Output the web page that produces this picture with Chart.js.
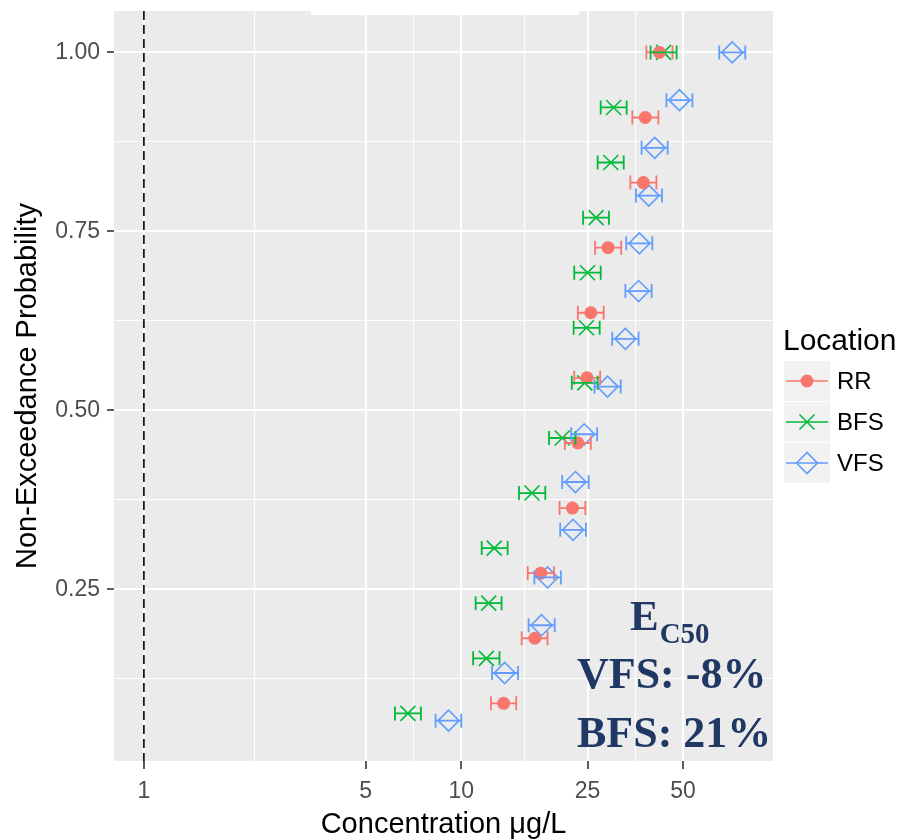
<!DOCTYPE html>
<html>
<head>
<meta charset="utf-8">
<script src="https://cdn.jsdelivr.net/npm/chart.js@4.4.1/dist/chart.umd.min.js"></script>
<style>
  html, body { margin: 0; padding: 0; background: #ffffff; }
  #wrap { width: 901px; height: 839px; }
</style>
</head>
<body>
<div id="wrap"><canvas id="c" width="901" height="839"></canvas></div>
<script>
// Non-exceedance probability (rank / n) for each location
const rrProb  = [0.0909, 0.1818, 0.2727, 0.3636, 0.4545, 0.5455, 0.6364, 0.7273, 0.8182, 0.9091, 1.0];
const bfsProb = [0.0769, 0.1538, 0.2308, 0.3077, 0.3846, 0.4615, 0.5385, 0.6154, 0.6923, 0.7692, 0.8462, 0.9231, 1.0];
const vfsProb = [0.0667, 0.1333, 0.2, 0.2667, 0.3333, 0.4, 0.4667, 0.5333, 0.6, 0.6667, 0.7333, 0.8, 0.8667, 0.9333, 1.0];

// Concentration estimates (µg/L) with lower / upper interval bounds
const rrConc  = [13.6, 17.05, 17.8, 22.4, 23.3, 24.9, 25.6, 29.0, 37.5, 38.0, 42.1];
const rrLow   = [12.4, 15.5, 16.2, 20.4, 21.2, 22.7, 23.3, 26.4, 34.1, 34.6, 38.3];
const rrHigh  = [14.9, 18.7, 19.6, 24.6, 25.6, 27.4, 28.1, 31.9, 41.2, 41.8, 46.3];

const bfsConc = [6.79, 12.0, 12.2, 12.7, 16.7, 20.8, 24.5, 24.8, 25.0, 26.6, 29.6, 30.2, 43.4];
const bfsLow  = [6.18, 10.9, 11.1, 11.6, 15.2, 18.9, 22.3, 22.6, 22.7, 24.2, 26.9, 27.5, 39.5];
const bfsHigh = [7.46, 13.2, 13.4, 14.0, 18.4, 22.9, 26.9, 27.3, 27.5, 29.2, 32.5, 33.2, 47.7];

const vfsConc = [9.12, 13.7, 17.9, 18.7, 22.5, 22.9, 24.4, 28.9, 32.9, 36.2, 36.4, 39.0, 40.7, 48.7, 71.4];
const vfsLow  = [8.30, 12.5, 16.3, 17.0, 20.5, 20.8, 22.2, 26.3, 29.9, 32.9, 33.1, 35.5, 37.0, 44.3, 65.0];
const vfsHigh = [10.0, 15.1, 19.7, 20.6, 24.7, 25.2, 26.8, 31.8, 36.2, 39.8, 40.0, 42.9, 44.7, 53.5, 78.5];

const seriesNames  = ['RR', 'BFS', 'VFS'];
const seriesColors = ['#F8766D', '#00BA38', '#619CFF'];

// Axis breaks
const xMajorTicks = [1, 5, 10, 25, 50];
const xMinorTicks = [2.236, 7.071, 15.81, 35.36];
const yMajorTicks = [0.25, 0.5, 0.75, 1.0];
const yTickLabels = ['0.25', '0.50', '0.75', '1.00'];
const yMinorTicks = [0.125, 0.375, 0.625, 0.875];

const referenceConc = 1;           // dashed vertical reference line
const noteTitle = 'E';
const noteSub = 'C50';
const noteLines = ['VFS: -8%', 'BFS: 21%'];

const SANS = '"Liberation Sans", Arial, sans-serif';
const SERIF = '"Liberation Serif", "Times New Roman", serif';

function pts(conc, prob, low, high) {
  return conc.map((x, i) => ({ x: x, y: prob[i], lo: low[i], hi: high[i] }));
}

const pointStyles = [
  { pointStyle: 'circle',   radius: 6.5,  fill: true,  borderWidth: 0 },
  { pointStyle: 'crossRot', radius: 10.6, fill: false, borderWidth: 1.6 },
  { pointStyle: 'rectRot',  radius: 10.5, fill: false, borderWidth: 1.6 }
];

function makeDataset(i, data) {
  const s = pointStyles[i];
  return {
    label: seriesNames[i],
    data: data,
    showLine: false,
    pointStyle: s.pointStyle,
    pointRadius: s.radius,
    pointHoverRadius: s.radius,
    pointBorderWidth: s.borderWidth,
    pointBorderColor: seriesColors[i],
    pointBackgroundColor: s.fill ? seriesColors[i] : 'rgba(0,0,0,0)'
  };
}

// no extra room for overhanging tick labels
function noPad(s) {
  s.paddingTop = 0; s.paddingBottom = 0; s.paddingLeft = 0; s.paddingRight = 0;
}

// grey panel behind the grid
const panelBg = {
  id: 'panelBg',
  beforeDraw(chart) {
    const { ctx, chartArea: a } = chart;
    ctx.save();
    ctx.fillStyle = '#EBEBEB';
    ctx.fillRect(a.left, a.top, a.right - a.left, a.bottom - a.top);
    ctx.restore();
  }
};

// dashed reference line
const refLine = {
  id: 'refLine',
  beforeDatasetsDraw(chart) {
    const { ctx, chartArea: a } = chart;
    const x = chart.scales.x.getPixelForValue(referenceConc);
    ctx.save();
    ctx.strokeStyle = '#000000';
    ctx.lineWidth = 1.6;
    ctx.setLineDash([9, 5]);
    ctx.beginPath();
    ctx.moveTo(x, a.top);
    ctx.lineTo(x, a.bottom);
    ctx.stroke();
    ctx.restore();
  }
};

// horizontal interval bars
const errorBars = {
  id: 'errorBars',
  afterDatasetsDraw(chart) {
    const { ctx } = chart;
    const xs = chart.scales.x, ys = chart.scales.y;
    const cap = 7;
    ctx.save();
    ctx.beginPath();
    ctx.rect(chart.chartArea.left, chart.chartArea.top,
             chart.chartArea.right - chart.chartArea.left,
             chart.chartArea.bottom - chart.chartArea.top);
    ctx.clip();
    chart.data.datasets.forEach((ds, i) => {
      ctx.strokeStyle = seriesColors[i];
      ctx.lineWidth = 1.8;
      ds.data.forEach(d => {
        const x1 = xs.getPixelForValue(d.lo);
        const x2 = xs.getPixelForValue(d.hi);
        const y = ys.getPixelForValue(d.y);
        ctx.beginPath();
        ctx.moveTo(x1, y); ctx.lineTo(x2, y);
        ctx.moveTo(x1, y - cap); ctx.lineTo(x1, y + cap);
        ctx.moveTo(x2, y - cap); ctx.lineTo(x2, y + cap);
        ctx.stroke();
      });
    });
    ctx.restore();
  }
};

// legend, annotation and top strip
const overlay = {
  id: 'overlay',
  afterDraw(chart) {
    const { ctx } = chart;
    ctx.save();

    // legend
    ctx.fillStyle = '#000000';
    ctx.font = '30px ' + SANS;
    ctx.textAlign = 'left';
    ctx.textBaseline = 'middle';
    ctx.fillText('Location', 783, 342);

    const keyX = 784, keyW = 46, keyH = 40, keyY0 = 361, keyStep = 41;
    seriesNames.forEach((name, i) => {
      const top = keyY0 + i * keyStep;
      const cy = top + keyH / 2;
      const cx = keyX + keyW / 2;
      ctx.fillStyle = '#F2F2F2';
      ctx.fillRect(keyX, top, keyW, keyH);
      ctx.strokeStyle = seriesColors[i];
      ctx.lineWidth = 1.6;
      ctx.beginPath();
      ctx.moveTo(keyX + 2, cy);
      ctx.lineTo(keyX + keyW - 2, cy);
      ctx.stroke();
      const s = pointStyles[i];
      ctx.fillStyle = s.fill ? seriesColors[i] : 'rgba(0,0,0,0)';
      ctx.strokeStyle = seriesColors[i];
      ctx.lineWidth = s.borderWidth;
      Chart.helpers.drawPoint(ctx, {
        pointStyle: s.pointStyle, radius: s.radius, rotation: 0, borderWidth: s.borderWidth
      }, cx, cy);
      ctx.fillStyle = '#000000';
      ctx.font = '24px ' + SANS;
      ctx.fillText(name, 837, cy + 1);
    });

    // EC50 note
    ctx.fillStyle = '#1F3864';
    ctx.textBaseline = 'alphabetic';
    ctx.font = 'bold 43px ' + SERIF;
    ctx.fillText(noteTitle, 630, 630);
    const ew = ctx.measureText(noteTitle).width;
    ctx.font = 'bold 29px ' + SERIF;
    ctx.fillText(noteSub, 630 + ew + 1, 643);
    ctx.font = 'bold 44px ' + SERIF;
    ctx.fillText(noteLines[0], 577, 688);
    ctx.fillText(noteLines[1], 577, 747);

    // blank strip over the top edge
    ctx.fillStyle = '#FFFFFF';
    ctx.fillRect(311, 0, 268, 15);
    ctx.restore();
  }
};

const isIn = (arr, v) => arr.some(t => Math.abs(t - v) < 1e-9);

new Chart(document.getElementById('c'), {
  type: 'scatter',
  data: {
    datasets: [
      makeDataset(0, pts(rrConc, rrProb, rrLow, rrHigh)),
      makeDataset(1, pts(bfsConc, bfsProb, bfsLow, bfsHigh)),
      makeDataset(2, pts(vfsConc, vfsProb, vfsLow, vfsHigh))
    ]
  },
  options: {
    responsive: false,
    devicePixelRatio: 1,
    animation: false,
    events: [],
    layout: { autoPadding: false, padding: { left: 0, top: 11, right: 128, bottom: 0 } },
    plugins: { legend: { display: false }, tooltip: { enabled: false } },
    scales: {
      x: {
        type: 'logarithmic',
        min: 0.805,
        max: 96,
        afterBuildTicks: s => {
          s.ticks = xMajorTicks.concat(xMinorTicks).sort((a, b) => a - b).map(v => ({ value: v }));
        },
        afterFit: s => { s.height = 78; noPad(s); },
        border: { display: false },
        grid: {
          color: '#FFFFFF',
          lineWidth: c => isIn(xMajorTicks, c.tick.value) ? 2 : 1.1,
          tickColor: c => isIn(xMajorTicks, c.tick.value) ? '#333333' : 'rgba(0,0,0,0)',
          tickWidth: c => isIn(xMajorTicks, c.tick.value) ? 1.6 : 0,
          tickLength: 8,
          drawTicks: true
        },
        ticks: {
          autoSkip: false,
          maxRotation: 0,
          minRotation: 0,
          padding: 9,
          color: '#4D4D4D',
          font: { family: SANS, size: 23 },
          callback: v => isIn(xMajorTicks, v) ? String(v) : ''
        },
        title: {
          display: true,
          text: 'Concentration μg/L',
          color: '#000000',
          font: { family: SANS, size: 29, lineHeight: 1 },
          padding: { top: 0, bottom: 0 }
        }
      },
      y: {
        type: 'linear',
        min: 0.0104,
        max: 1.0578,
        afterBuildTicks: s => {
          s.ticks = yMajorTicks.concat(yMinorTicks).sort((a, b) => a - b).map(v => ({ value: v }));
        },
        afterFit: s => { s.width = 114; noPad(s); },
        border: { display: false },
        grid: {
          color: '#FFFFFF',
          lineWidth: c => isIn(yMajorTicks, c.tick.value) ? 2 : 1.1,
          tickColor: c => isIn(yMajorTicks, c.tick.value) ? '#333333' : 'rgba(0,0,0,0)',
          tickWidth: c => isIn(yMajorTicks, c.tick.value) ? 1.6 : 0,
          tickLength: 7,
          drawTicks: true
        },
        ticks: {
          autoSkip: false,
          padding: 7,
          color: '#4D4D4D',
          font: { family: SANS, size: 23 },
          callback: v => {
            const k = yMajorTicks.findIndex(t => Math.abs(t - v) < 1e-9);
            return k >= 0 ? yTickLabels[k] : '';
          }
        },
        title: {
          display: true,
          text: 'Non-Exceedance Probability',
          color: '#000000',
          font: { family: SANS, size: 29, lineHeight: 1 },
          padding: { top: 13.5, bottom: 0 }
        }
      }
    }
  },
  plugins: [panelBg, refLine, errorBars, overlay]
});
</script>
</body>
</html>
